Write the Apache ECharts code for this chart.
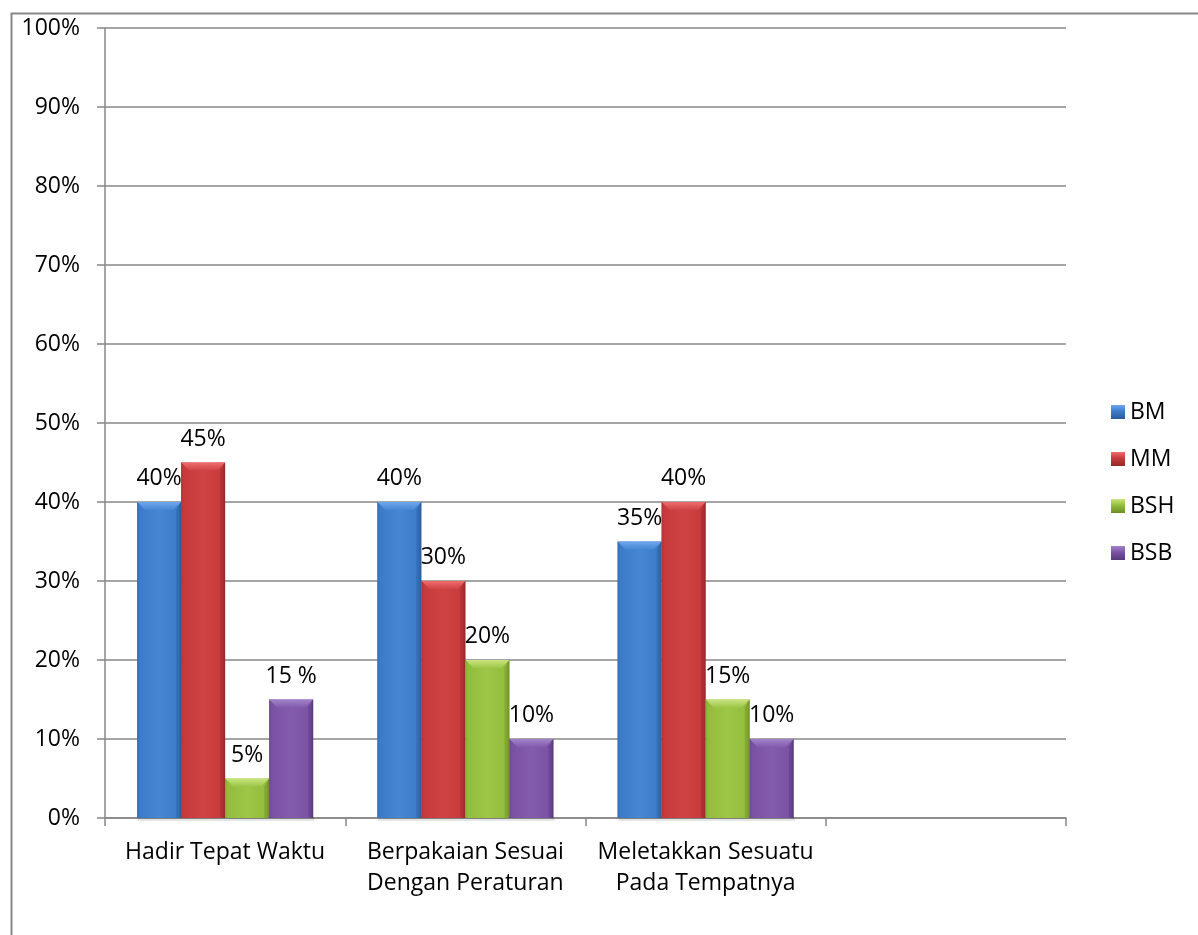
<!DOCTYPE html>
<html>
<head>
<meta charset="utf-8">
<script src="https://cdn.jsdelivr.net/npm/echarts@6/dist/echarts.min.js"></script>
<style>
  html, body { margin: 0; padding: 0; background: #ffffff; }
  #chart { width: 1198px; height: 935px; }
</style>
</head>
<body>
<div id="chart"></div>
<script>
// Categories along the x axis (the last slot is intentionally empty)
const categories = [
  'Hadir Tepat Waktu',
  'Berpakaian Sesuai\nDengan Peraturan',
  'Meletakkan Sesuatu\nPada Tempatnya',
  ''
];

// Series names and their percentage values per category
const seriesNames = ['BM', 'MM', 'BSH', 'BSB'];
const bmValues  = [40, 40, 35];
const mmValues  = [45, 30, 40];
const bshValues = [5, 20, 15];
const bsbValues = [15, 10, 10];

// Y axis tick labels run 0% .. 100% in steps of 10
const yMin = 0;
const yMax = 100;
const yStep = 10;

// Data labels written with a space before the percent sign: [series, category]
const spacedLabels = [[3, 0]];

const FONT = '"Open Sans", "Noto Sans", sans-serif';
const FONT_SIZE = 23;
const AXIS_GRAY = '#878787';

// Bevelled bar palette: face, lighter bevel, darker edge
const palette = [
  { face: '#3c7bc8', light: '#6fa8ee', mid: '#4686d3', dark: '#2b5c9c' },
  { face: '#c63a3c', light: '#ef6d6d', mid: '#cf4345', dark: '#952629' },
  { face: '#93bd3c', light: '#c9e57f', mid: '#9ec648', dark: '#6c8f25' },
  { face: '#7a52a3', light: '#a283cb', mid: '#835cad', dark: '#563a78' }
];

const allValues = [bmValues, mmValues, bshValues, bsbValues];
const GROUP_GAP = 0.267; // share of a category left empty around each bar group

function labelText(seriesIndex, catIndex, v) {
  const spaced = spacedLabels.some(p => p[0] === seriesIndex && p[1] === catIndex);
  return v + (spaced ? ' %' : '%');
}

function renderBar(params, api) {
  const s = params.seriesIndex;
  const cat = api.value(0);
  const val = api.value(1);
  const top = api.coord([cat, val]);
  const base = api.coord([cat, 0]);
  const catW = api.size([1, 0])[0];
  const barW = catW * (1 - GROUP_GAP) / seriesNames.length;
  const x0 = top[0] - barW * seriesNames.length / 2 + s * barW;
  const x1 = x0 + barW;
  const yT = top[1];
  const yB = base[1];
  const h = yB - yT;
  const b = Math.min(8, h / 2);
  const c = palette[s];

  const faceFill = new echarts.graphic.LinearGradient(0, 0, 1, 0, [
    { offset: 0, color: c.dark },
    { offset: 0.06, color: c.face },
    { offset: 0.5, color: c.mid },
    { offset: 0.94, color: c.face },
    { offset: 1, color: c.dark }
  ]);

  return {
    type: 'group',
    children: [
      // soft shadow under the bar
      {
        type: 'rect',
        shape: { x: x0 + 1, y: yB - 1, width: barW, height: 4 },
        style: { fill: 'rgba(0,0,0,0.10)' },
        silent: true
      },
      {
        type: 'rect',
        shape: { x: x0, y: yT, width: barW, height: h },
        style: { fill: faceFill }
      },
      // top bevel
      {
        type: 'polygon',
        shape: { points: [[x0, yT], [x1, yT], [x1 - b, yT + b], [x0 + b, yT + b]] },
        style: {
          fill: new echarts.graphic.LinearGradient(0, 0, 0, 1, [
            { offset: 0, color: c.light },
            { offset: 1, color: c.mid }
          ])
        }
      },
      // left bevel
      {
        type: 'polygon',
        shape: { points: [[x0, yT], [x0 + b * 0.6, yT + b], [x0 + b * 0.6, yB], [x0, yB]] },
        style: { fill: c.face, opacity: 0.6 }
      },
      // right bevel
      {
        type: 'polygon',
        shape: { points: [[x1, yT], [x1 - b * 0.6, yT + b], [x1 - b * 0.6, yB], [x1, yB]] },
        style: { fill: c.dark, opacity: 0.45 }
      },
      // value label
      {
        type: 'text',
        style: {
          text: labelText(s, cat, val),
          x: (x0 + x1) / 2,
          y: yT - 12,
          textAlign: 'center',
          textVerticalAlign: 'bottom',
          fill: '#000000',
          font: FONT_SIZE + 'px ' + FONT
        },
        z2: 10
      }
    ]
  };
}

const chart = echarts.init(document.getElementById('chart'), null, { renderer: 'canvas' });

const option = {
  backgroundColor: '#ffffff',
  animation: false,
  textStyle: { fontFamily: FONT },
  graphic: [
    {
      type: 'rect',
      left: 9, top: 11,
      shape: { width: 1400, height: 1200 },
      style: { fill: 'none', stroke: AXIS_GRAY, lineWidth: 2 },
      z: -10,
      silent: true
    }
  ],
  grid: { left: 105, right: 132, top: 28, bottom: 117, containLabel: false },
  legend: {
    orient: 'vertical',
    left: 1106,
    top: 395,
    itemWidth: 14,
    itemHeight: 14,
    itemGap: 23,
    icon: 'rect',
    textStyle: { fontSize: FONT_SIZE, color: '#000000', fontFamily: FONT, lineHeight: 24 },
    data: seriesNames.map((n, i) => ({
      name: n,
      itemStyle: {
        color: new echarts.graphic.LinearGradient(0, 0, 0, 1, [
          { offset: 0, color: palette[i].light },
          { offset: 0.45, color: palette[i].face },
          { offset: 1, color: palette[i].dark }
        ])
      }
    }))
  },
  xAxis: {
    type: 'category',
    data: categories,
    boundaryGap: true,
    axisLine: { lineStyle: { color: AXIS_GRAY, width: 1.5 } },
    axisTick: { show: true, length: 8, interval: 0, lineStyle: { color: AXIS_GRAY, width: 1.5 } },
    axisLabel: {
      interval: 0,
      margin: 19,
      fontSize: FONT_SIZE,
      lineHeight: 31,
      color: '#000000',
      fontFamily: FONT
    },
    splitLine: { show: false }
  },
  yAxis: {
    type: 'value',
    min: yMin,
    max: yMax,
    interval: yStep,
    axisLine: { show: true, lineStyle: { color: AXIS_GRAY, width: 1.5 } },
    axisTick: { show: true, length: 8, lineStyle: { color: AXIS_GRAY, width: 1.5 } },
    axisLabel: {
      formatter: '{value}%',
      margin: 25,
      fontSize: FONT_SIZE,
      color: '#000000',
      fontFamily: FONT
    },
    splitLine: { show: true, lineStyle: { color: AXIS_GRAY, width: 1.5 } }
  },
  series: seriesNames.map((name, i) => ({
    name: name,
    type: 'custom',
    itemStyle: { color: palette[i].face },
    renderItem: renderBar,
    encode: { x: 0, y: 1 },
    data: allValues[i].map((v, c) => [c, v])
  }))
};

chart.setOption(option);
</script>
</body>
</html>
